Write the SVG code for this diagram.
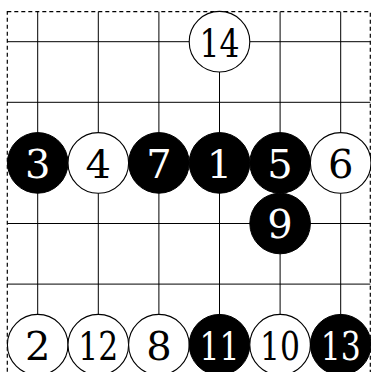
<svg xmlns="http://www.w3.org/2000/svg" width="371" height="372" viewBox="0 0 371 372">
<style>
.grid line{stroke:#000;stroke-width:1;}
.b circle{fill:#000;stroke:#000;stroke-width:1;}
.w circle{fill:#fff;stroke:#000;stroke-width:1.1;}
.b text{fill:#fff;}
.w text{fill:#000;}
</style>
<rect width="371" height="372" fill="#fff"/>
<rect x="7.3" y="11.7" width="363" height="363" fill="none" stroke="#000" stroke-width="1.2" stroke-dasharray="4,3"/>
<g id="connectors" class="grid">
<line x1="7.3" y1="41.7" x2="370.3" y2="41.7"/>
<line x1="7.3" y1="102.3" x2="370.3" y2="102.3"/>
<line x1="7.3" y1="162.9" x2="370.3" y2="162.9"/>
<line x1="7.3" y1="223.5" x2="370.3" y2="223.5"/>
<line x1="7.3" y1="284.1" x2="370.3" y2="284.1"/>
<line x1="7.3" y1="344.7" x2="370.3" y2="344.7"/>
<line x1="37.7" y1="11.7" x2="37.7" y2="372"/>
<line x1="98.3" y1="11.7" x2="98.3" y2="372"/>
<line x1="158.9" y1="11.7" x2="158.9" y2="372"/>
<line x1="219.5" y1="11.7" x2="219.5" y2="372"/>
<line x1="280.1" y1="11.7" x2="280.1" y2="372"/>
<line x1="340.7" y1="11.7" x2="340.7" y2="372"/>
</g>
<g font-family="DejaVu Serif" font-size="40" text-anchor="middle" font-weight="normal">
<g id="s14" class="w"><circle cx="219.5" cy="41.7" r="30.3"/><text x="219.5" y="56.5" textLength="40" lengthAdjust="spacingAndGlyphs">14</text></g>
<g id="s3" class="b"><circle cx="37.7" cy="162.9" r="30.3"/><text x="37.7" y="177.7">3</text></g>
<g id="s4" class="w"><circle cx="98.3" cy="162.9" r="30.3"/><text x="98.3" y="177.7">4</text></g>
<g id="s7" class="b"><circle cx="158.9" cy="162.9" r="30.3"/><text x="158.9" y="177.7">7</text></g>
<g id="s1" class="b"><circle cx="219.5" cy="162.9" r="30.3"/><text x="219.5" y="177.7">1</text></g>
<g id="s5" class="b"><circle cx="280.1" cy="162.9" r="30.3"/><text x="280.1" y="177.7">5</text></g>
<g id="s6" class="w"><circle cx="340.7" cy="162.9" r="30.3"/><text x="340.7" y="177.7">6</text></g>
<g id="s9" class="b"><circle cx="280.1" cy="223.5" r="30.3"/><text x="280.1" y="238.3">9</text></g>
<g id="s2" class="w"><circle cx="37.7" cy="344.7" r="30.3"/><text x="37.7" y="359.5">2</text></g>
<g id="s12" class="w"><circle cx="98.3" cy="344.7" r="30.3"/><text x="98.3" y="359.5" textLength="40" lengthAdjust="spacingAndGlyphs">12</text></g>
<g id="s8" class="w"><circle cx="158.9" cy="344.7" r="30.3"/><text x="158.9" y="359.5">8</text></g>
<g id="s11" class="b"><circle cx="219.5" cy="344.7" r="30.3"/><text x="219.5" y="359.5" textLength="40" lengthAdjust="spacingAndGlyphs">11</text></g>
<g id="s10" class="w"><circle cx="280.1" cy="344.7" r="30.3"/><text x="280.1" y="359.5" textLength="40" lengthAdjust="spacingAndGlyphs">10</text></g>
<g id="s13" class="b"><circle cx="340.7" cy="344.7" r="30.3"/><text x="340.7" y="359.5" textLength="40" lengthAdjust="spacingAndGlyphs">13</text></g>
</g>
</svg>
